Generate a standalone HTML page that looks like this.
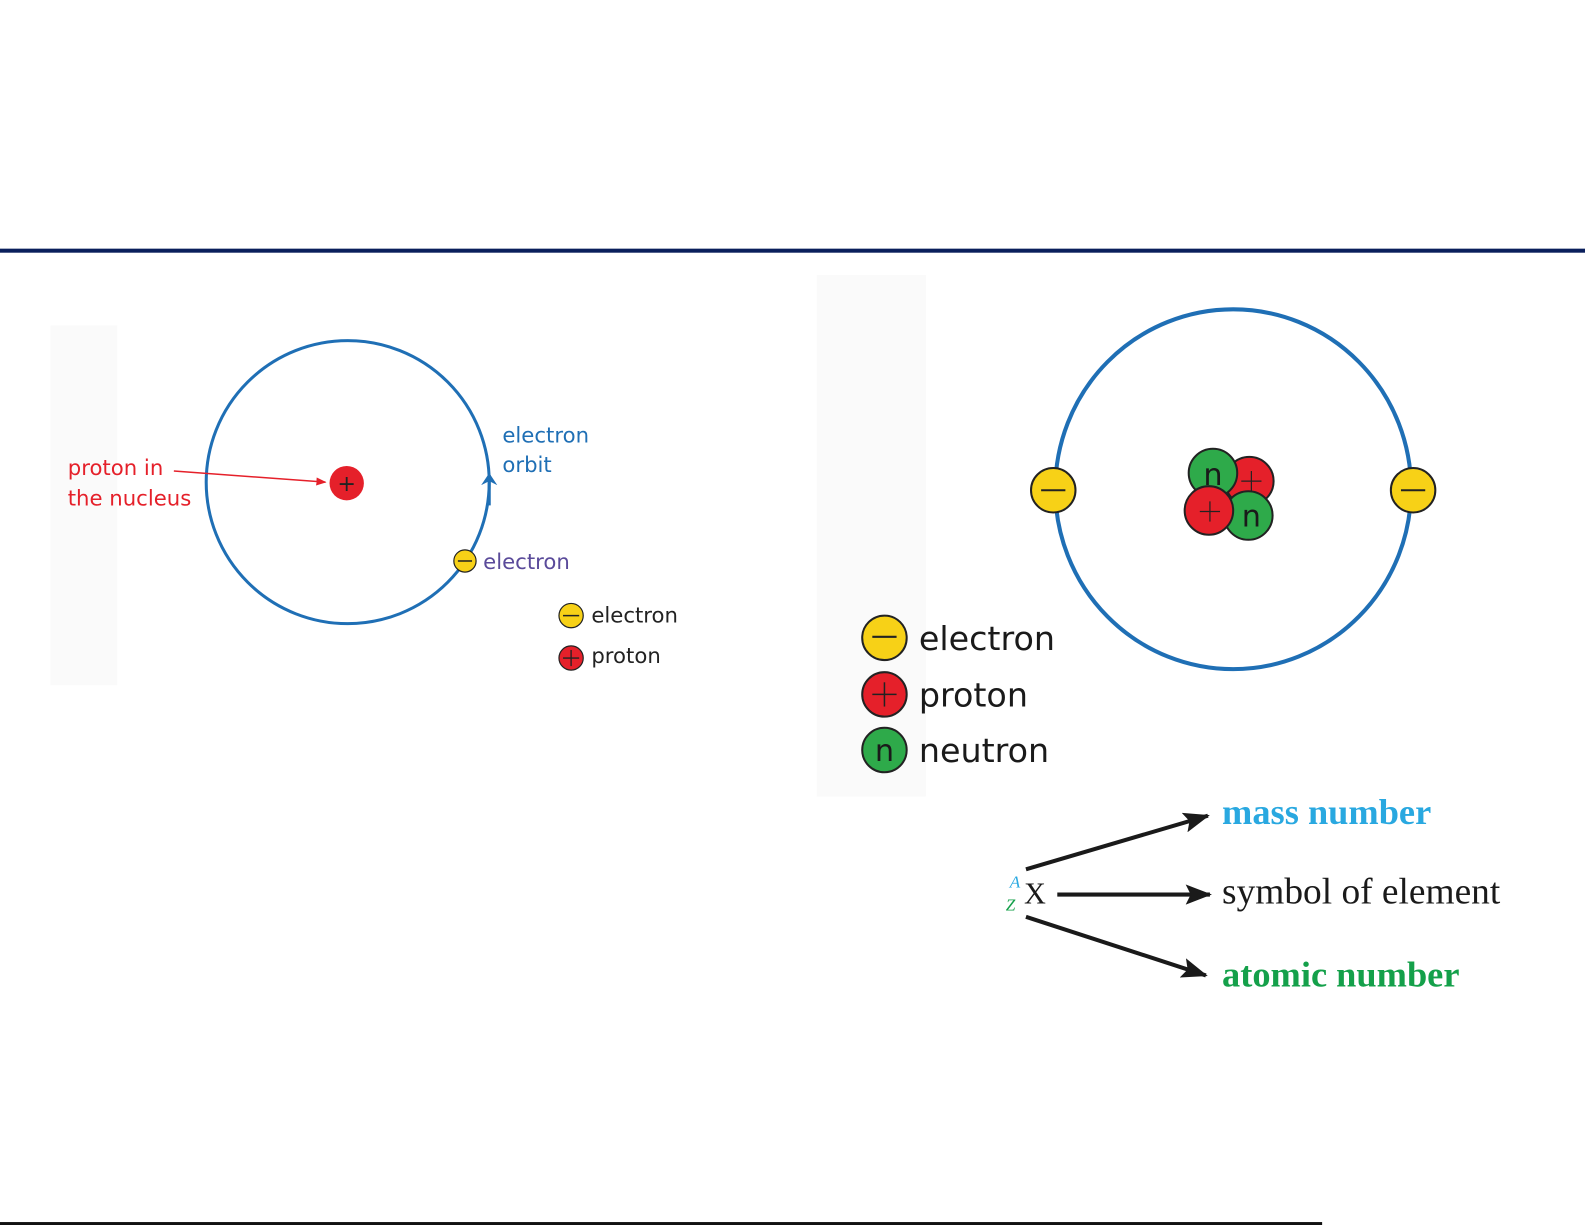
<!DOCTYPE html>
<html><head><meta charset="utf-8"><style>
html,body{margin:0;padding:0;background:#fff;}
svg{display:block;}
.s{font-family:"DejaVu Sans","Liberation Sans",sans-serif;}
.r{font-family:"Liberation Serif",serif;}
</style></head><body>
<svg width="1585" height="1225" viewBox="0 0 1585 1225" xmlns="http://www.w3.org/2000/svg">
<defs>
<marker id="ab" markerWidth="12" markerHeight="16" refX="10" refY="8" orient="auto" markerUnits="userSpaceOnUse"><path d="M0,0 L12,8 L0,16 L4,8 z" fill="#1f6fb5"/></marker>
<marker id="ar" markerWidth="10" markerHeight="8" refX="9" refY="4" orient="auto" markerUnits="userSpaceOnUse"><path d="M0,0 L10,4 L0,8 z" fill="#e5202a"/></marker>
<marker id="ak" markerWidth="26" markerHeight="20" refX="24" refY="10" orient="auto" markerUnits="userSpaceOnUse"><path d="M0,0 L26,10 L0,20 L5,10 z" fill="#1a1a1a"/></marker>
</defs>
<g transform="scale(1.0108)">
<rect x="0" y="246" width="1570" height="4" fill="#0a1f5c"/>
<rect x="0" y="1209" width="1308" height="3" fill="#111"/>
<rect x="50" y="322" width="66" height="356" fill="#fafafa"/>
<rect x="808" y="272" width="108" height="516" fill="#fafafa"/>

<!-- left atom -->
<ellipse cx="344" cy="477" rx="140" ry="140" fill="none" stroke="#1f6fb5" stroke-width="3"/>
<path d="M484,500 L484,470" stroke="#1f6fb5" stroke-width="3" marker-end="url(#ab)"/>
<circle cx="343" cy="478" r="17" fill="#e5202a"/>
<text x="343" y="486" text-anchor="middle" class="s" font-size="22" fill="#222">+</text>
<line x1="172" y1="466" x2="322" y2="477" stroke="#e5202a" stroke-width="1.5" marker-end="url(#ar)"/>
<text x="67" y="470" class="s" font-size="21" fill="#e5202a">proton in</text>
<text x="67" y="500" class="s" font-size="21" fill="#e5202a">the nucleus</text>
<text x="497" y="438" class="s" font-size="21" fill="#1f6fb5">electron</text>
<text x="497" y="467" class="s" font-size="21" fill="#1f6fb5">orbit</text>
<circle cx="460" cy="555" r="11" fill="#f7d117" stroke="#222" stroke-width="1.2"/>
<line x1="453" y1="555" x2="467" y2="555" stroke="#222" stroke-width="1.5"/>
<text x="478" y="563" class="s" font-size="21" fill="#5a4a9a">electron</text>
<circle cx="565" cy="609" r="12" fill="#f7d117" stroke="#222" stroke-width="1.2"/>
<line x1="557" y1="609" x2="573" y2="609" stroke="#222" stroke-width="1.5"/>
<text x="585" y="616" class="s" font-size="21" fill="#222">electron</text>
<circle cx="565" cy="651" r="12" fill="#e5202a" stroke="#222" stroke-width="1.2"/>
<line x1="557" y1="651" x2="573" y2="651" stroke="#222" stroke-width="1.3"/>
<line x1="565" y1="643" x2="565" y2="659" stroke="#222" stroke-width="1.3"/>
<text x="585" y="656" class="s" font-size="21" fill="#222">proton</text>

<!-- right atom -->
<ellipse cx="1220" cy="484" rx="176" ry="178" fill="none" stroke="#1f6fb5" stroke-width="4"/>
<g stroke="#222" stroke-width="2">
<circle cx="1042" cy="485" r="22" fill="#f7d117"/>
<line x1="1030" y1="485" x2="1054" y2="485"/>
<circle cx="1398" cy="485" r="22" fill="#f7d117"/>
<line x1="1386" y1="485" x2="1410" y2="485"/>
<circle cx="1236" cy="476" r="24" fill="#e5202a"/>
<circle cx="1200" cy="468" r="24" fill="#2eaa4a"/>
<circle cx="1235" cy="510" r="24" fill="#2eaa4a"/>
<circle cx="1196" cy="505" r="24" fill="#e5202a"/>
<line x1="1238" y1="466" x2="1238" y2="486" stroke-width="1.2"/><line x1="1228" y1="476" x2="1248" y2="476" stroke-width="1.2"/>
<line x1="1197" y1="496" x2="1197" y2="516" stroke-width="1.2"/><line x1="1187" y1="506" x2="1207" y2="506" stroke-width="1.2"/>
</g>
<text x="1200" y="480" text-anchor="middle" class="s" font-size="30" fill="#1a1a1a">n</text>
<text x="1238" y="521" text-anchor="middle" class="s" font-size="30" fill="#1a1a1a">n</text>

<!-- legend right -->
<g stroke="#222" stroke-width="2">
<circle cx="875" cy="631" r="22" fill="#f7d117"/>
<line x1="863" y1="630" x2="887" y2="630"/>
<circle cx="875" cy="687" r="22" fill="#e5202a"/>
<line x1="863" y1="687" x2="887" y2="687" stroke-width="1.5"/><line x1="875" y1="675" x2="875" y2="699" stroke-width="1.5"/>
<circle cx="875" cy="742" r="22" fill="#2eaa4a"/>
</g>
<text x="875" y="753" text-anchor="middle" class="s" font-size="30" fill="#1a1a1a">n</text>
<text x="909" y="643" class="s" font-size="33" fill="#1a1a1a">electron</text>
<text x="909" y="699" class="s" font-size="33" fill="#1a1a1a">proton</text>
<text x="909" y="754" class="s" font-size="33" fill="#1a1a1a">neutron</text>

<!-- notation -->
<text x="999" y="878" class="r" font-size="17" font-style="italic" fill="#29a8e0">A</text>
<text x="995" y="901" class="r" font-size="17" font-style="italic" fill="#14a04a">Z</text>
<text x="1013" y="894" class="r" font-size="30" fill="#1a1a1a">X</text>
<line x1="1015" y1="860" x2="1195" y2="807" stroke="#1a1a1a" stroke-width="4" marker-end="url(#ak)"/>
<line x1="1046" y1="885" x2="1197" y2="885" stroke="#1a1a1a" stroke-width="4" marker-end="url(#ak)"/>
<line x1="1015" y1="907" x2="1193" y2="965" stroke="#1a1a1a" stroke-width="4" marker-end="url(#ak)"/>
<text x="1209" y="815" class="r" font-size="36" font-weight="bold" fill="#29a8e0">mass number</text>
<text x="1209" y="894" class="r" font-size="37" fill="#1a1a1a">symbol of element</text>
<text x="1209" y="976" class="r" font-size="36" font-weight="bold" fill="#14a04a">atomic number</text>
</g>
</svg>
</body></html>
